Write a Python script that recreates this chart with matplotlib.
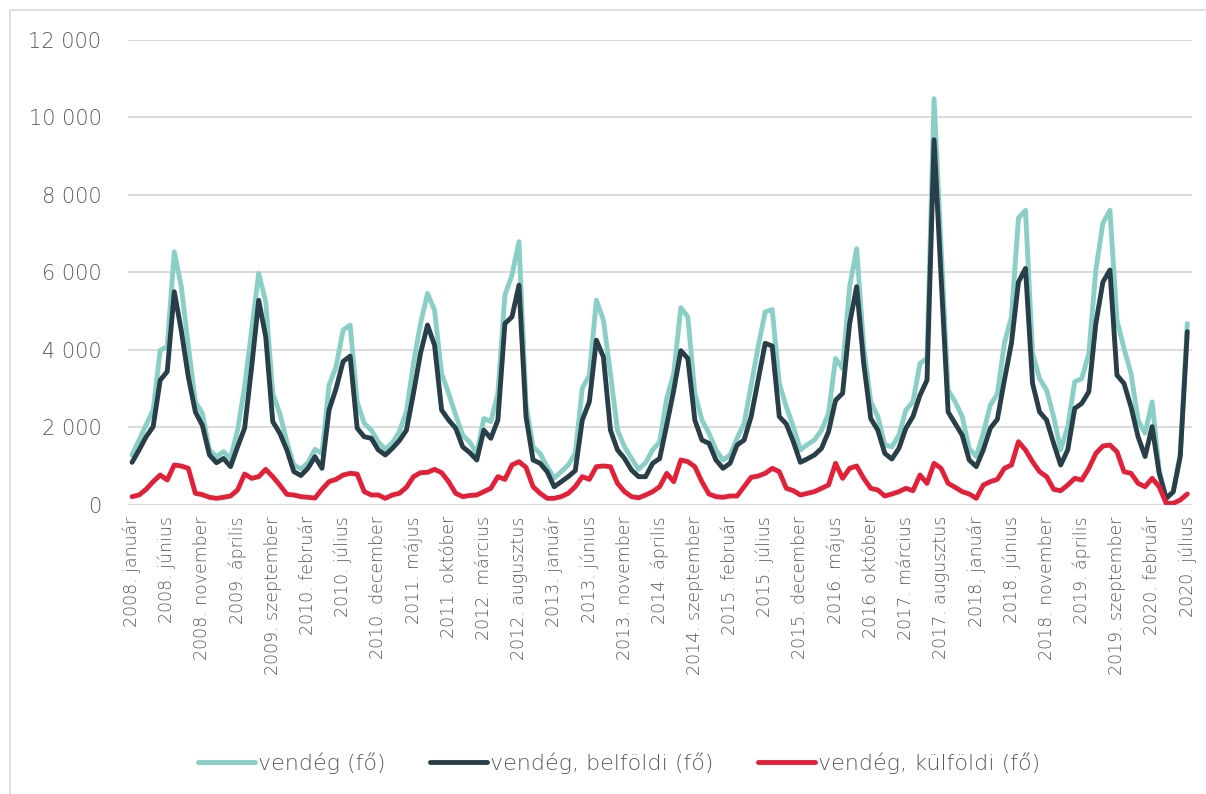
import matplotlib
matplotlib.use("Agg")
import matplotlib.pyplot as plt
import matplotlib.patches as patches
from matplotlib.ticker import FuncFormatter

# monthly data, 2008 January - 2020 July
honapok = ["január", "február", "március", "április", "május", "június",
           "július", "augusztus", "szeptember", "október", "november", "december"]
labels = []
for ev in range(2008, 2021):
    for h in honapok:
        labels.append(f"{ev}. {h}")
labels = labels[:151]

vendeg = [1290, 1675, 2060, 2450, 3990, 4080, 6530, 5630, 4100, 2660, 2360, 1420,
          1245, 1375, 1200, 1930, 3050, 4510, 5970, 5240, 2880, 2360, 1630, 1030,
          930, 1090, 1435, 1330, 3090, 3565, 4510, 4640, 2660, 2105, 1930, 1630,
          1435, 1605, 1890, 2405, 3650, 4680, 5455, 5025, 3390, 2880, 2320, 1800,
          1620, 1330, 2230, 2150, 2880, 5410, 5930, 6790, 2600, 1500, 1330, 990,
          690, 860, 1030, 1330, 3010, 3350, 5280, 4770, 3390, 1930, 1500, 1200,
          920, 1090, 1420, 1630, 2750, 3390, 5090, 4850, 2880, 2190, 1850, 1420,
          1160, 1290, 1720, 2100, 3090, 4080, 4980, 5040, 3135, 2530, 2020, 1420,
          1560, 1675, 1930, 2360, 3780, 3520, 5630, 6610, 4080, 2660, 2280, 1550,
          1500, 1800, 2450, 2660, 3650, 3780, 10480, 6660, 2960, 2660, 2280, 1460,
          1250, 1850, 2580, 2860, 4170, 4850, 7400, 7600, 3910, 3260, 2960, 2280,
          1420, 2020, 3180, 3260, 3910, 6060, 7270, 7600, 4770, 4040, 3390, 2190,
          1850, 2660, 900, 170, 340, 1330, 4680]

belfoldi = [1100, 1420, 1760, 2020, 3220, 3440, 5500, 4500, 3300, 2400, 2050, 1290,
            1090, 1200, 990, 1500, 1980, 3560, 5280, 4340, 2150, 1850, 1420, 860,
            760, 945, 1245, 945, 2450, 3000, 3700, 3840, 1980, 1760, 1720, 1420,
            1290, 1460, 1660, 1930, 2880, 3910, 4640, 4120, 2450, 2190, 1980, 1500,
            1350, 1160, 1930, 1720, 2190, 4680, 4850, 5670, 2280, 1160, 1075, 860,
            470, 600, 730, 885, 2190, 2660, 4250, 3820, 1930, 1420, 1200, 900,
            730, 730, 1075, 1200, 2060, 2960, 3980, 3780, 2190, 1675, 1590, 1160,
            945, 1075, 1545, 1675, 2280, 3220, 4170, 4100, 2280, 2090, 1630, 1100,
            1190, 1290, 1460, 1890, 2700, 2880, 4680, 5630, 3650, 2230, 1930, 1330,
            1185, 1460, 1980, 2280, 2830, 3220, 9420, 5880, 2400, 2100, 1800, 1160,
            990, 1420, 1980, 2210, 3220, 4170, 5750, 6100, 3135, 2400, 2190, 1590,
            1030, 1420, 2490, 2620, 2920, 4680, 5750, 6060, 3350, 3135, 2530, 1760,
            1250, 2020, 820, 170, 340, 1250, 4470]

kulfoldi = [215, 258, 404, 601, 773, 644, 1031, 1005, 945, 301, 266, 198,
            172, 198, 232, 387, 799, 687, 730, 919, 730, 515, 275, 258,
            215, 198, 180, 404, 601, 661, 773, 816, 799, 344, 258, 258,
            172, 258, 301, 455, 730, 833, 842, 919, 833, 601, 301, 215,
            245, 258, 344, 430, 730, 661, 1031, 1117, 971, 472, 301, 172,
            172, 215, 301, 472, 730, 661, 988, 1005, 988, 558, 344, 215,
            185, 258, 344, 472, 816, 601, 1160, 1117, 988, 601, 283, 215,
            198, 232, 232, 472, 713, 747, 816, 945, 859, 430, 369, 258,
            301, 344, 430, 515, 1074, 687, 945, 1005, 687, 430, 387, 232,
            283, 344, 430, 369, 773, 558, 1074, 945, 558, 455, 344, 283,
            172, 515, 601, 661, 945, 1031, 1632, 1417, 1117, 859, 730, 404,
            369, 515, 687, 644, 945, 1331, 1520, 1546, 1374, 859, 816, 558,
            472, 687, 472, 43, 43, 129, 283]

series_names = ["vendég (fő)", "vendég, belföldi (fő)", "vendég, külföldi (fő)"]
colors = ["#8ACFC6", "#283E48", "#E42038"]

plt.rcParams['font.family'] = ['DejaVu Sans']
plt.rcParams['font.weight'] = 'light'
gray = "#595959"

fig = plt.figure(figsize=(12.06, 7.94), dpi=100)
ax = fig.add_axes([0.106, 0.364, 0.882, 0.586])

x = list(range(len(labels)))
for data, name, c in zip([vendeg, belfoldi, kulfoldi], series_names, colors):
    ax.plot(x, data, color=c, linewidth=3.5, label=name, solid_joinstyle='round',
            solid_capstyle='round')

ax.set_ylim(0, 12000)
ax.set_xlim(-0.6, 150.6)
ax.set_yticks(range(0, 12001, 2000))
ax.yaxis.set_major_formatter(FuncFormatter(lambda v, p: f"{int(v):,}".replace(",", " ")))
ax.set_xticks(x[::5])
ax.set_xticklabels(labels[::5], rotation=90)
ax.tick_params(axis='y', length=0, labelsize=15, colors=gray, pad=19)
ax.tick_params(axis='x', length=0, labelsize=12.5, colors=gray, pad=8)
ax.grid(axis='y', color="#D9D9D9", linewidth=1.3)
ax.set_axisbelow(True)
for s in ax.spines.values():
    s.set_visible(False)

leg = fig.legend(loc='center', bbox_to_anchor=(0.513, 0.039), ncol=3, frameon=False,
                 fontsize=16, handlelength=2.6, columnspacing=2.0, handletextpad=0.1)
for t in leg.get_texts():
    t.set_color(gray)

# light frame around chart area
fig.patches.append(patches.Rectangle((10 / 1206, -0.1), 1.2, 1.1 - 10 / 794,
                                     transform=fig.transFigure, fill=False,
                                     edgecolor="#D9D9D9", linewidth=1.2))

fig.savefig("out.png", dpi=100)
